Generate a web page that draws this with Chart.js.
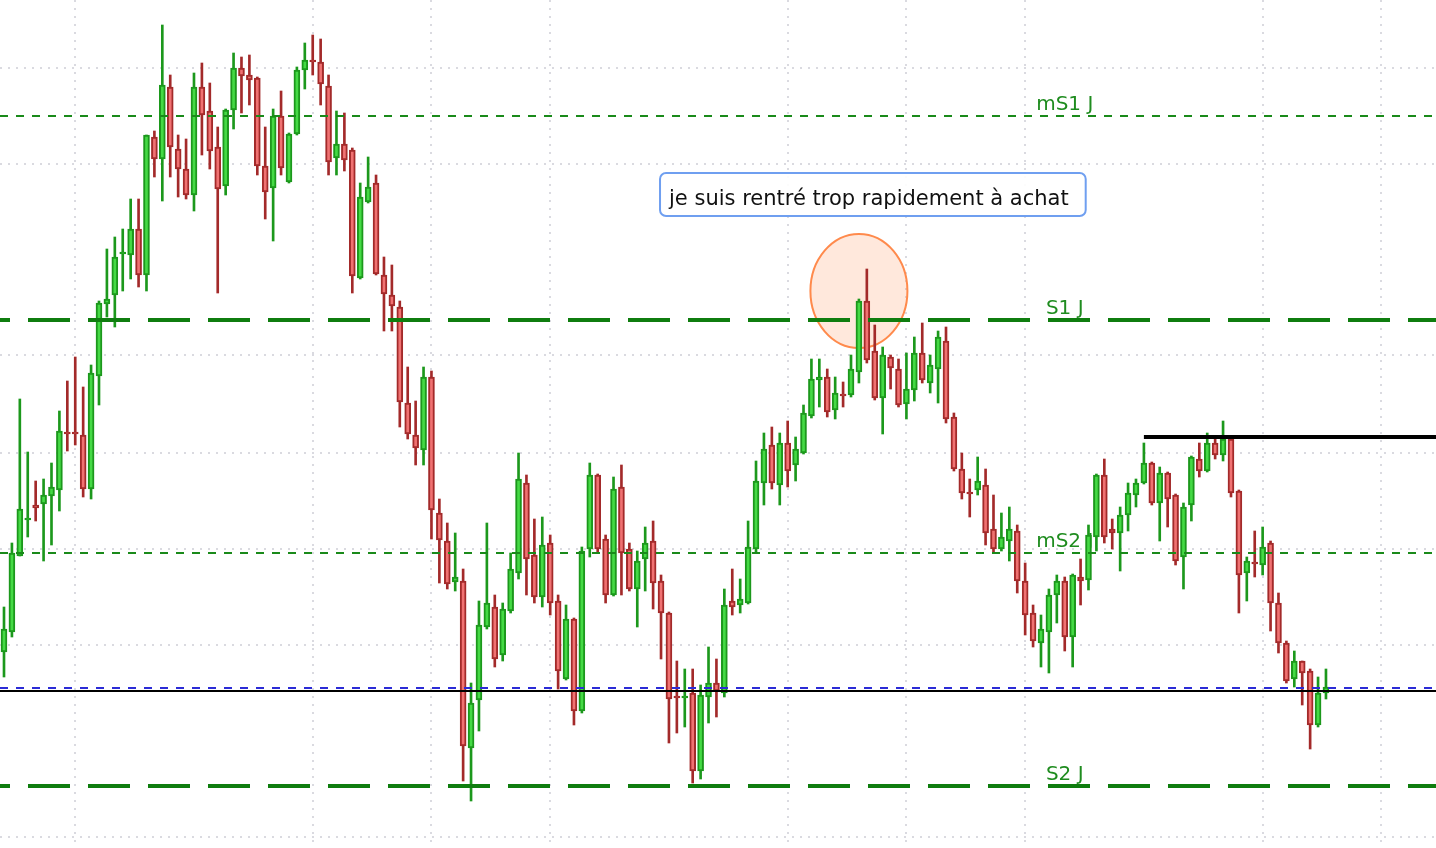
<!DOCTYPE html>
<html>
<head>
<meta charset="utf-8">
<script src="https://cdn.jsdelivr.net/npm/chart.js@4.4.1/dist/chart.umd.min.js"></script>
<style>
    html, body { margin: 0; padding: 0; background: #ffffff; }
    #wrap { width: 1436px; height: 848px; }
</style>
</head>
<body>
<div id="wrap"><canvas id="chart" width="1436" height="848"></canvas></div>
<script>
// Candle values in price points, oldest bar first
const open = [
    196, 216, 292, 328, 343, 344, 352, 358, 416, 416, 413, 359,
    472, 544, 553, 594, 593, 619, 573, 711, 689, 761, 699, 679,
    653, 761, 737, 701, 662, 738, 780, 773, 770, 682, 660, 732,
    666, 714, 778, 788, 786, 762, 690, 704, 698, 570, 646, 665,
    573, 553, 541, 445, 413, 398, 471, 335, 307, 266, 267, 100,
    148, 221, 241, 193, 237, 275, 365, 293, 251, 305, 247, 169,
    229, 137, 299, 373, 309, 253, 361, 299, 259, 289, 307, 267,
    235, 152, 150, 155, 77, 151, 165, 155, 247, 243, 245, 299,
    365, 403, 363, 405, 383, 395, 432, 468, 471, 438, 454, 453,
    476, 547, 497, 450, 491, 479, 444, 458, 495, 465, 479, 507,
    431, 379, 356, 358, 363, 319, 299, 307, 317, 267, 235, 205,
    216, 253, 267, 211, 271, 268, 311, 373, 319, 315, 333, 353,
    365, 385, 345, 375, 353, 291, 343, 389, 377, 405, 393, 409,
    357, 275, 286, 283, 305, 245, 205, 169, 187, 177, 123, 155
];
const high = [
    241, 305, 449, 396, 367, 369, 385, 437, 467, 491, 461, 483,
    547, 599, 611, 619, 649, 649, 713, 717, 823, 773, 713, 709,
    775, 785, 765, 721, 739, 795, 791, 793, 771, 721, 739, 757,
    715, 781, 805, 813, 809, 773, 737, 735, 700, 665, 691, 673,
    591, 583, 547, 481, 447, 481, 477, 349, 325, 315, 279, 165,
    247, 325, 253, 245, 295, 395, 373, 329, 331, 313, 253, 243,
    230, 301, 385, 374, 313, 371, 383, 305, 297, 321, 327, 273,
    236, 187, 179, 179, 163, 201, 189, 259, 279, 269, 327, 387,
    415, 421, 415, 427, 411, 443, 489, 489, 479, 471, 466, 493,
    549, 579, 523, 501, 493, 489, 495, 511, 525, 493, 517, 521,
    435, 395, 369, 391, 379, 353, 335, 341, 323, 285, 243, 233,
    259, 273, 271, 274, 289, 323, 374, 389, 329, 341, 365, 369,
    405, 386, 381, 376, 354, 345, 392, 405, 415, 409, 427, 410,
    358, 291, 317, 321, 307, 255, 207, 197, 187, 179, 171, 179
];
const low = [
    171, 211, 292, 311, 327, 287, 303, 337, 397, 403, 351, 349,
    443, 531, 521, 557, 569, 561, 557, 671, 647, 671, 651, 649,
    637, 693, 679, 555, 653, 719, 735, 743, 673, 629, 607, 673,
    665, 713, 759, 773, 743, 673, 673, 677, 555, 569, 645, 573,
    517, 517, 421, 409, 383, 383, 309, 265, 259, 257, 67, 47,
    117, 219, 181, 187, 235, 269, 253, 245, 241, 233, 159, 168,
    123, 135, 291, 295, 245, 252, 253, 257, 221, 257, 239, 189,
    105, 115, 121, 65, 69, 125, 131, 151, 233, 235, 244, 295,
    343, 359, 343, 361, 367, 394, 430, 441, 431, 429, 441, 451,
    465, 485, 448, 414, 459, 441, 429, 447, 465, 455, 445, 425,
    377, 349, 331, 353, 303, 295, 297, 287, 255, 213, 201, 181,
    175, 225, 197, 181, 243, 258, 297, 305, 299, 277, 317, 341,
    364, 343, 307, 321, 283, 259, 327, 371, 376, 389, 387, 351,
    235, 247, 271, 273, 217, 195, 165, 161, 143, 99, 121, 149
];
const close = [
    219, 295, 339, 330, 340, 353, 361, 417, 414, 414, 359, 475,
    545, 549, 591, 596, 619, 573, 713, 689, 763, 701, 679, 653,
    761, 733, 697, 659, 738, 780, 772, 768, 682, 656, 732, 680,
    714, 778, 788, 786, 764, 686, 704, 688, 572, 651, 661, 574,
    554, 542, 446, 414, 400, 471, 338, 308, 264, 271, 102, 145,
    223, 245, 189, 239, 279, 369, 289, 251, 303, 245, 177, 229,
    137, 297, 373, 299, 253, 359, 295, 259, 287, 305, 265, 235,
    149, 150, 152, 77, 153, 165, 157, 243, 241, 249, 301, 367,
    399, 365, 405, 377, 399, 435, 469, 471, 436, 455, 452, 479,
    547, 488, 450, 493, 480, 443, 459, 495, 468, 483, 511, 429,
    379, 355, 354, 367, 315, 299, 311, 319, 267, 233, 207, 219,
    253, 267, 211, 273, 267, 313, 373, 311, 315, 333, 355, 365,
    385, 345, 375, 349, 287, 341, 391, 377, 405, 393, 409, 355,
    273, 287, 284, 301, 245, 205, 167, 187, 175, 123, 155, 161
];

// Grid positions (bar index / price)
const gridBars = [9, 39, 54, 69, 99, 114, 129, 159, 174];
const gridPrices = [11, 203, 299, 395, 493, 684, 780];

// Pivot levels
const levelNames = ['mS1 J', 'S1 J', 'mS2 J', 'S2 J'];
const levelValues = [732, 528, 295, 62];
const levelLabelBar = 134;

const bidPrice = 160;
const lastPrice = 157;
const resistanceStartBar = 144;
const resistancePrice = 411;

const noteText = 'je suis rentré trop rapidement à achat';
const noteBar = 83;
const notePrice = 675;
const circleBar = 108;
const circlePrice = 557;

const upBorder = '#1c981c';
const upFill = '#45da45';
const downBorder = '#a32a2a';
const downFill = '#f07272';

const bars = open.map((o, i) => i);
const isUp = bars.map(i => close[i] >= open[i]);

function line(ctx, x1, y1, x2, y2) {
    ctx.beginPath();
    ctx.moveTo(x1, y1);
    ctx.lineTo(x2, y2);
    ctx.stroke();
}

// Grid, circle and level labels go under the candles, lines and note on top
const overlays = {
    id: 'overlays',
    beforeDatasetsDraw(chart) {
        const { ctx, chartArea: area, scales: { x, y } } = chart;
        ctx.save();

        ctx.strokeStyle = '#dadae0';
        ctx.lineWidth = 2;
        ctx.setLineDash([2, 6]);
        gridBars.forEach(b => {
            const px = Math.round(x.getPixelForValue(b));
            line(ctx, px, area.top, px, area.bottom);
        });
        gridPrices.forEach(p => {
            const py = Math.round(y.getPixelForValue(p));
            line(ctx, area.left, py, area.right, py);
        });
        ctx.setLineDash([]);

        // circle round the entry
        ctx.beginPath();
        ctx.ellipse(x.getPixelForValue(circleBar), y.getPixelForValue(circlePrice), 48.5, 57, 0, 0, Math.PI * 2);
        ctx.fillStyle = 'rgba(255, 140, 80, 0.2)';
        ctx.fill();
        ctx.strokeStyle = '#ff8a4c';
        ctx.lineWidth = 2;
        ctx.stroke();

        ctx.font = '20px "DejaVu Sans"';
        ctx.fillStyle = '#1f8c1f';
        ctx.textAlign = 'center';
        ctx.textBaseline = 'alphabetic';
        levelNames.forEach((name, i) => {
            ctx.fillText(name, x.getPixelForValue(levelLabelBar), y.getPixelForValue(levelValues[i]) - 6);
        });
        ctx.restore();
    },
    afterDatasetsDraw(chart) {
        const { ctx, chartArea: area, scales: { x, y } } = chart;
        ctx.save();

        levelNames.forEach((name, i) => {
            const py = Math.round(y.getPixelForValue(levelValues[i]));
            if (name.startsWith('m')) {
                ctx.strokeStyle = '#1a8a1a';
                ctx.lineWidth = 2;
                ctx.setLineDash([8, 8]);
                ctx.lineDashOffset = 0;
            } else {
                ctx.strokeStyle = '#0f7d0f';
                ctx.lineWidth = 4;
                ctx.setLineDash([42, 18]);
                ctx.lineDashOffset = 32;
            }
            line(ctx, area.left, py, area.right, py);
        });

        ctx.strokeStyle = '#2b2bd6';
        ctx.lineWidth = 2;
        ctx.setLineDash([8, 8]);
        ctx.lineDashOffset = 0;
        let py = Math.round(y.getPixelForValue(bidPrice));
        line(ctx, area.left, py, area.right, py);

        ctx.setLineDash([]);
        ctx.strokeStyle = '#000000';
        py = Math.round(y.getPixelForValue(lastPrice));
        line(ctx, area.left, py, area.right, py);

        ctx.lineWidth = 4;
        py = Math.round(y.getPixelForValue(resistancePrice));
        line(ctx, x.getPixelForValue(resistanceStartBar), py, area.right, py);

        // note box
        ctx.font = '21px "DejaVu Sans"';
        const w = ctx.measureText(noteText).width + 26;
        const bx = x.getPixelForValue(noteBar) - 1;
        const by = y.getPixelForValue(notePrice);
        ctx.beginPath();
        ctx.roundRect(bx, by, w, 43, 6);
        ctx.fillStyle = 'rgba(255, 255, 255, 0.9)';
        ctx.fill();
        ctx.strokeStyle = '#6f9ff0';
        ctx.lineWidth = 2;
        ctx.stroke();
        ctx.fillStyle = '#111111';
        ctx.textAlign = 'left';
        ctx.textBaseline = 'alphabetic';
        ctx.fillText(noteText, bx + 9, by + 32);

        ctx.restore();
    }
};

const ctx = document.getElementById('chart').getContext('2d');
new Chart(ctx, {
    type: 'bar',
    data: {
        datasets: [
            {
                label: 'body',
                order: 1,
                grouped: false,
                data: bars.map(i => ({ x: i, y: [open[i], close[i]] })),
                backgroundColor: bars.map(i => isUp[i] ? upFill : downFill),
                borderColor: bars.map(i => isUp[i] ? upBorder : downBorder),
                borderWidth: 2,
                borderSkipped: false,
                barThickness: 6
            },
            {
                label: 'wick',
                order: 2,
                grouped: false,
                data: bars.map(i => ({ x: i, y: [low[i], high[i]] })),
                backgroundColor: bars.map(i => isUp[i] ? upBorder : downBorder),
                borderWidth: 0,
                barThickness: 2
            }
        ]
    },
    options: {
        responsive: false,
        animation: false,
        events: [],
        layout: { padding: 0 },
        plugins: {
            legend: { display: false },
            tooltip: { enabled: false }
        },
        scales: {
            x: { type: 'linear', display: false, offset: false, min: -0.505, max: 180.9 },
            y: { type: 'linear', display: false, min: 0, max: 848 }
        }
    },
    plugins: [overlays]
});
</script>
</body>
</html>
